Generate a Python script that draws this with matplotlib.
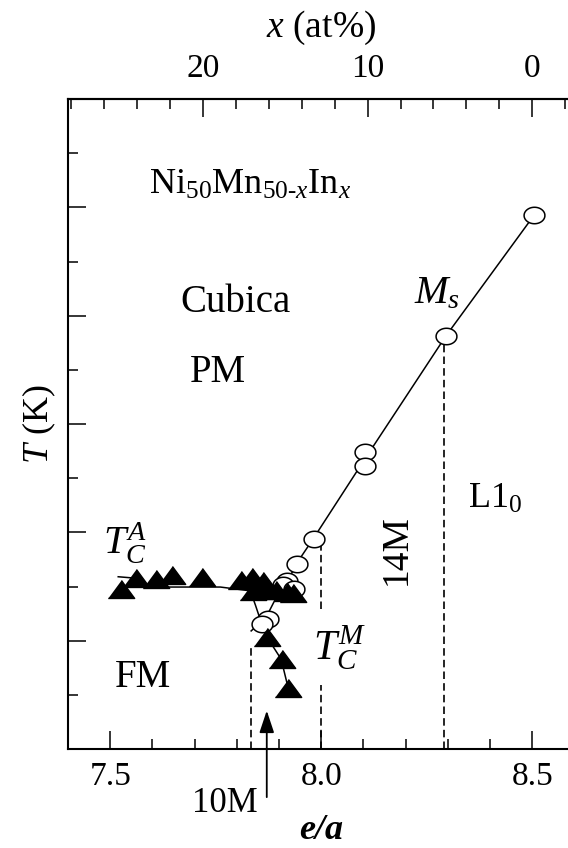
import numpy as np
import matplotlib
matplotlib.use("Agg")
import matplotlib.pyplot as plt
from matplotlib.ticker import MultipleLocator, NullFormatter

plt.rcParams["font.family"] = ["Liberation Serif", "DejaVu Serif"]
plt.rcParams["mathtext.fontset"] = "custom"
plt.rcParams["mathtext.rm"] = "Liberation Serif"
plt.rcParams["mathtext.it"] = "Liberation Serif:italic"
plt.rcParams["mathtext.bf"] = "Liberation Serif:bold"

# martensitic start temperature Ms (open circles)
ms_ea = [8.505, 8.295, 8.104, 8.104, 7.982, 7.943, 7.920, 7.910, 7.935, 7.874, 7.860]
ms_T = [493, 381, 274, 261, 194, 171, 155, 151, 148, 120, 115]

# Curie temperature (filled triangles), austenite then martensite branch
tc_ea = [7.525, 7.562, 7.609, 7.646, 7.717, 7.810, 7.836, 7.863, 7.839, 7.860,
         7.893, 7.919, 7.934, 7.871, 7.907, 7.922]
tc_T = [148, 158, 157, 161, 159, 156, 159, 155, 146, 147, 147, 145, 144, 103, 83, 56]

# guide lines drawn by hand in the original
ms_line_ea = [8.505, 8.295, 8.104, 7.981, 7.943, 7.919, 7.891, 7.870, 7.834]
ms_line_T = [493, 381, 268, 194, 172, 154, 138, 122, 109]
tc_line_ea = [7.519, 7.550, 7.590, 7.642, 7.761, 7.832, 7.844, 7.856, 7.872, 7.905, 7.922]
tc_line_T = [159, 158, 150, 149.5, 149.5, 146, 133, 119, 103, 83, 56]

# phase boundaries (dashed)
bound_ea = [7.834, 8.0, 8.292]
bound_top = [94, 187, 381]

fig = plt.figure(figsize=(5.68, 8.48), dpi=100)
ax = fig.add_axes([68 / 568, 99 / 848, 506.4 / 568, 650 / 848])
ax.set_xlim(7.4, 8.6)
ax.set_ylim(0, 600)

tri = [(-1, -0.68), (1, -0.68), (0, 0.68)]
t = np.linspace(0, 2 * np.pi, 80)
ell = list(zip(np.cos(t), 0.79 * np.sin(t)))

for e, top in zip(bound_ea, bound_top):
    ax.plot([e, e], [0, top], color="black", lw=1.2, ls=(0, (4.5, 2.5)), zorder=1)

ax.plot(ms_line_ea, ms_line_T, color="black", lw=1.1, zorder=2)
ax.plot(tc_line_ea, tc_line_T, color="black", lw=1.1, zorder=2)
ax.plot(ms_ea, ms_T, ls="none", marker=ell, ms=15, mfc="white", mec="black", mew=1.1, zorder=3)
ax.plot(tc_ea, tc_T, ls="none", marker=tri, ms=19, mfc="black", mec="black", mew=1, zorder=4)

# axes styling
for s in ax.spines.values():
    s.set_linewidth(1.5)
ax.set_xticks([7.5, 8.0, 8.5])
ax.set_xticklabels(["7.5", "8.0", "8.5"])
ax.xaxis.set_minor_locator(MultipleLocator(0.1))
ax.yaxis.set_major_locator(MultipleLocator(100))
ax.yaxis.set_minor_locator(MultipleLocator(50))
ax.yaxis.set_major_formatter(NullFormatter())
ax.tick_params(axis="x", which="both", direction="in", top=False, labelsize=24, pad=9)
ax.tick_params(axis="y", which="both", direction="in", right=False)
ax.tick_params(which="major", length=13, width=1.1)
ax.tick_params(which="minor", length=7, width=1.1)

ax.set_xlabel("e/a", fontsize=26, fontstyle="italic", fontweight="bold", labelpad=16)
ax.set_ylabel(r"$T$ (K)", fontsize=26, labelpad=4)

sec = ax.secondary_xaxis("top", functions=(lambda e: (8.5 - e) / 0.039,
                                           lambda x: 8.5 - 0.039 * x))
sec.set_xticks([0, 10, 20])
sec.xaxis.set_minor_locator(MultipleLocator(2))
sec.tick_params(which="both", direction="in", labelsize=24, pad=11)
sec.tick_params(which="major", length=13, width=1.1)
sec.tick_params(which="minor", length=7, width=1.1)
sec.spines["top"].set_linewidth(1.5)
sec.set_xlabel(r"$x$ (at%)", fontsize=27, labelpad=12)

# labels
ax.text(7.832, 520, r"Ni$_{50}$Mn$_{50\text{-}x}$In$_x$", fontsize=26, ha="center", va="center")
ax.text(7.796, 412, "Cubica", fontsize=28, ha="center", va="center")
ax.text(7.756, 348, "PM", fontsize=28, ha="center", va="center")
ax.text(7.536, 190, r"$T_C^A$", fontsize=29, ha="center", va="center")
ax.text(7.578, 66, "FM", fontsize=28, ha="center", va="center")
ax.text(8.043, 93, r"$T_C^M$", fontsize=30, ha="center", va="center",
        bbox=dict(facecolor="white", edgecolor="none", pad=9), zorder=5)
ax.text(8.275, 420, r"$M_s$", fontsize=29, ha="center", va="center")
ax.text(8.178, 184, "14M", fontsize=27, ha="center", va="center", rotation=90)
ax.text(8.412, 230, r"L1$_0$", fontsize=26, ha="center", va="center")

ax.annotate("", xy=(7.871, 38), xytext=(7.871, -47), annotation_clip=False,
            arrowprops=dict(arrowstyle="-|>,head_length=0.9,head_width=0.3",
                            color="black", lw=1.3, mutation_scale=15))
ax.text(7.772, -50, "10M", fontsize=25, ha="center", va="center", clip_on=False)

fig.savefig("out.png", dpi=100)
